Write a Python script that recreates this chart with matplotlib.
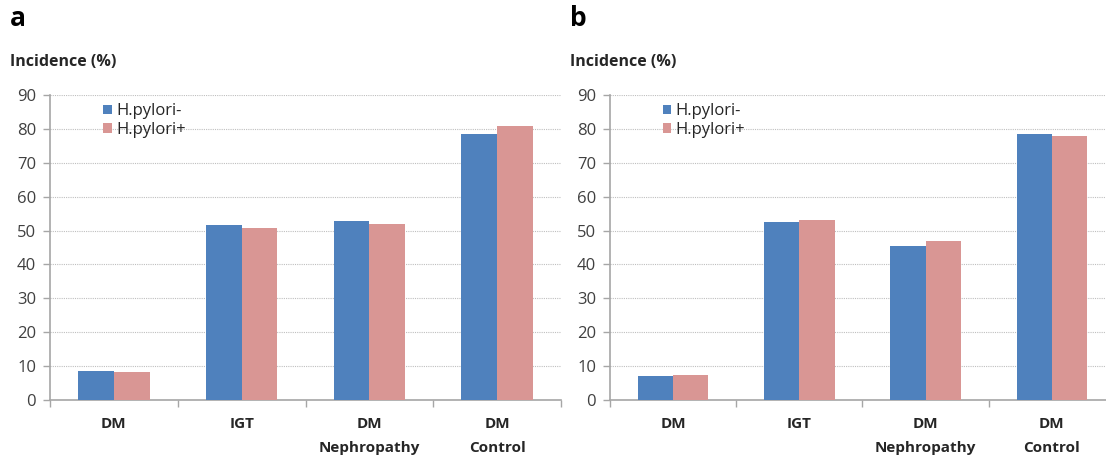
import matplotlib
matplotlib.use("Agg")
import matplotlib.pyplot as plt
import numpy as np

plt.rcParams['font.family'] = ['Open Sans', 'DejaVu Sans']

# Data
categories = ["DM", "IGT", "DM\nNephropathy", "DM\nControl"]
series_names = ["H.pylori-", "H.pylori+"]
panel_a_neg = [8.5, 51.6, 52.7, 78.6]
panel_a_pos = [8.2, 50.9, 52.0, 80.8]
panel_b_neg = [7.0, 52.6, 45.5, 78.4]
panel_b_pos = [7.4, 53.1, 46.9, 77.8]
y_ticks = [0, 10, 20, 30, 40, 50, 60, 70, 80, 90]

BLUE = "#4F81BD"
PINK = "#D99694"
AXIS_GRAY = "#A6A6A6"
TEXT = "#262626"

W, H = 1106, 459
fig = plt.figure(figsize=(W / 100, H / 100), dpi=100)


def draw_panel(left_px, width_px, neg, pos, letter):
    ax = fig.add_axes([left_px / W, (H - 400) / H, width_px / W, (400 - 95) / H])
    x = np.arange(len(categories))
    bw = 0.28
    ax.bar(x - bw / 2, neg, bw, color=BLUE, label=series_names[0], zorder=3)
    ax.bar(x + bw / 2, pos, bw, color=PINK, label=series_names[1], zorder=3)

    ax.set_xlim(-0.5, len(categories) - 0.5)
    ax.set_ylim(0, 90)
    ax.set_yticks(y_ticks)
    ax.set_xticks(x)
    ax.set_xticklabels(categories, fontweight="bold", fontsize=11,
                       linespacing=1.95, color=TEXT, va="top")
    ax.set_xticks(np.arange(-0.5, len(categories)), minor=True)
    ax.tick_params(axis="x", which="major", length=0, pad=12)
    ax.tick_params(axis="x", which="minor", length=5, color=AXIS_GRAY,
                   direction="out", width=1)
    ax.tick_params(axis="y", length=5, color=AXIS_GRAY, width=1,
                   labelsize=12, labelcolor="#404040", pad=5)

    ax.yaxis.grid(True, linestyle=(0, (1, 1)), color="#BFBFBF", lw=0.8, zorder=0)
    ax.set_axisbelow(True)
    for s in ["top", "right"]:
        ax.spines[s].set_visible(False)
    for s in ["left", "bottom"]:
        ax.spines[s].set_color(AXIS_GRAY)
        ax.spines[s].set_linewidth(1.2)

    ax.legend(loc="upper left", bbox_to_anchor=(0.085, 1.005), frameon=False,
              handlelength=0.5, handleheight=0.5, handletextpad=0.25,
              labelspacing=0.15, fontsize=12, borderaxespad=0.2,
              labelcolor="#262626")

    fig.text((left_px - 40) / W, 1 - 62 / H, "Incidence (%)", fontsize=11.5,
             fontweight="bold", color=TEXT, ha="left", va="center")
    fig.text((left_px - 40) / W, 1 - 19 / H, letter, fontsize=19,
             fontweight="bold", color="black", ha="left", va="center")
    return ax


draw_panel(50, 511, panel_a_neg, panel_a_pos, "a")
draw_panel(610, 505, panel_b_neg, panel_b_pos, "b")

fig.savefig("out.png", dpi=100)
